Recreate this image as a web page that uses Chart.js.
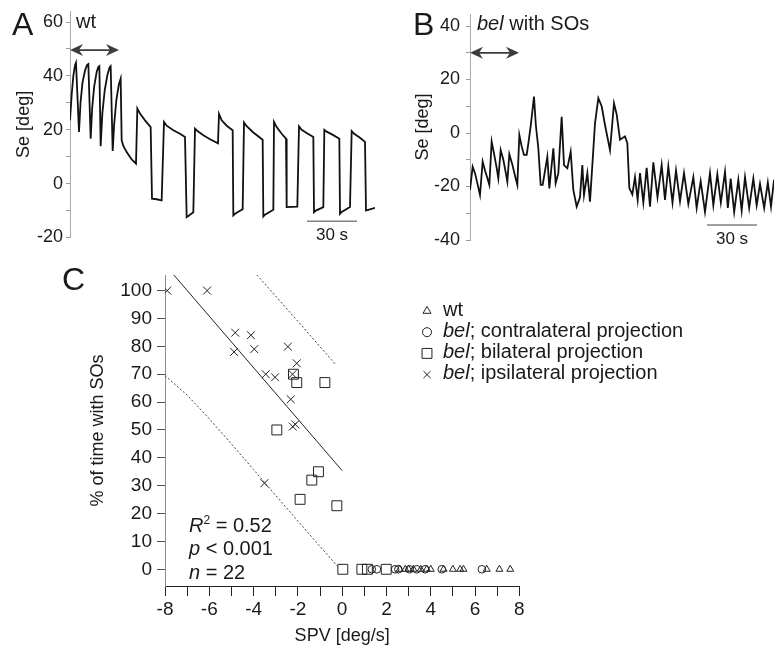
<!DOCTYPE html>
<html>
<head>
<meta charset="utf-8">
<script src="https://cdn.jsdelivr.net/npm/chart.js@4.4.1/dist/chart.umd.min.js"></script>
<style>
  body { margin: 0; background: #fff; }
  #wrap { position: relative; width: 774px; height: 650px; overflow: hidden; }
  canvas { position: absolute; }
</style>
</head>
<body>
<div id="wrap">
  <canvas id="chartA" width="390" height="250" style="left:0;top:0"></canvas>
  <canvas id="chartB" width="384" height="250" style="left:390px;top:0"></canvas>
  <canvas id="chartC" width="774" height="400" style="left:0;top:250px"></canvas>
</div>
<script>
// panel A: wt, eye position over time (s, deg)
const tA = [0, 1, 2, 3, 3.6, 5.4, 6.3, 7.5, 9, 10.2, 11, 12.4, 13.3, 14.5, 16, 17, 17.6, 18.4, 19.4, 20.8, 22.5, 23.8, 24.4, 25.6, 26.5, 27.8, 29.3, 30.4, 31, 32, 34, 37, 39.6, 40.4, 42, 45, 48.4, 49.2, 52, 55, 56.4, 58, 62, 66, 69, 70, 71, 74, 75, 76.5, 80, 84, 88.8, 89.4, 91, 94, 97.6, 98, 99, 103.6, 104.4, 106, 110, 115.6, 116, 117, 122, 122.4, 124, 127, 129.6, 130, 136.4, 137.4, 139, 142, 146, 146.4, 147.5, 152, 152.6, 154, 158, 161.6, 162, 163, 168, 169, 170.5, 174, 177, 177.6, 178.5, 183];
const seA = [23.5, 33, 40, 44, 44.9, 19.2, 30, 37.5, 42, 44, 44.4, 16.7, 28, 36, 41.5, 43.3, 43.6, 13.9, 26, 34.5, 40.5, 43.2, 43.6, 12.1, 22, 31, 36.8, 39, 16.1, 14, 11.7, 9, 7.4, 27.9, 26, 23.5, 21, -5.6, -5.8, -6.2, 22.9, 21.5, 19.8, 18.5, 17.3, -12.4, -12, -10.6, 20.4, 19.5, 18, 16.5, 15, 25.9, 23.5, 21.5, 19.8, -11.8, -11.2, -9.5, 22.7, 21.3, 19, 16.3, -12.2, -11.5, -9.7, 22.9, 21, 18.5, 16.7, -8.7, -8.5, 21.3, 20, 18.8, 17.3, -10.6, -10, -8.7, 20, 19.3, 18, 16.7, -11.2, -10.5, -8.7, 19.5, 18.5, 17, 15.5, -10, -9.8, -9];

// panel B: bel with SOs
const tB = [0, 1.6, 3, 4.5, 6, 7.6, 9, 10.5, 11.6, 13, 14.5, 16, 17, 18.4, 20, 21.5, 22.4, 23.6, 25.5, 27, 28.4, 29.6, 31, 32.4, 34, 35, 36.5, 38.4, 39.5, 41, 42.4, 43.6, 46.4, 47.6, 50, 51.4, 53, 55, 56.4, 58.4, 60.4, 62, 64, 66, 67.4, 68.4, 70.4, 72, 75, 77, 79, 81, 84, 86.4, 88, 90, 93, 94.4, 95.6, 97.4, 99, 100.6, 102, 104, 106, 108, 110, 112.5, 115, 117, 119, 121.5, 123.6, 126, 128.4, 131, 134, 136, 138.4, 141, 144, 146, 148.4, 150.5, 153, 154.7, 156.4, 158.5, 161, 163, 165, 167.5, 170, 172, 174, 176.5, 178.7, 180.6, 182.4];
const seB = [-21.3, -12.6, -15, -19, -23.2, -10.7, -14, -17, -19.4, -3.2, -8, -13, -17, -6.4, -10, -15, -18.2, -7.9, -12, -16, -19.4, -0.7, -5, -8.2, -8.2, -4, 3, 13.6, 3, -5.7, -19.4, -19.4, -8.9, -20.7, -5.7, -18.8, -15, 6.1, -12, -13.2, -7, -21.3, -27.5, -24, -12, -23.2, -15, -25.7, 3.6, 13, 10, 3, -6.4, 11.1, 7, -2.5, -1.25, -3.75, -20.6, -23, -16.5, -25, -15, -26, -13, -27.5, -11, -24, -12, -25, -12.5, -26, -14, -25.5, -15, -26.5, -16.5, -28, -18, -29.5, -15, -27, -15.5, -26, -14.5, -28, -17, -29.5, -17.5, -29, -16.5, -28, -17, -27, -19, -28, -18.5, -27.5, -17.5];

// stimulus window (s) and 30 s scale bars
const stimA = [0, 29.4];
const stimB = [0, 29.4];
const barA = [142.2, 172.2];
const barB = [142.2, 172.2];

// panel C: SPV (deg/s) vs % of time with SOs
const wtX = [2.6, 2.85, 3.0, 3.22, 3.55, 3.82, 4.0, 4.58, 5.0, 5.33, 5.48, 6.53, 7.1, 7.59];
const wtY = [0, 0, 0, 0, 0, 0, 0, 0, 0, 0, 0, 0, 0, 0];
const contraX = [1.34, 1.57, 2.39, 2.54, 3.04, 3.37, 3.75, 4.5, 6.31];
const contraY = [0, 0, 0, 0, 0, 0, 0, 0, 0];
const bilatX = [-2.2, -2.05, -0.78, -2.95, -1.07, -1.37, -1.9, -0.24, 0.03, 0.89, 1.14, 1.99];
const bilatY = [70, 67, 67, 50, 35, 32, 25.1, 22.8, 0, 0, 0, 0];
const ipsiX = [-7.9, -6.1, -4.83, -4.12, -4.88, -3.97, -2.45, -2.05, -3.45, -3.03, -2.24, -2.32, -2.23, -2.12, -3.51];
const ipsiY = [100, 100, 84.9, 84, 78, 79, 79.9, 73.9, 70, 68.9, 70, 61, 51.2, 52, 30.9];
const fitX = [-7.6, 0];
const fitY = [105.6, 35.4];
const upperX = [-3.85, -2, -0.3];
const upperY = [105.6, 89, 73.5];
const lowerX = [-8, -7, -6, -5, -4, -3, -2, -1, -0.2];
const lowerY = [69.5, 62.5, 54, 45, 35.8, 26.5, 17.3, 8.2, 1];

const family = "'Liberation Sans', Arial, sans-serif";
const ink = "#1a1a1a";
Chart.defaults.font.family = family;
Chart.defaults.color = ink;
Chart.defaults.plugins.legend.display = false;
Chart.defaults.plugins.tooltip.enabled = false;

const pts = (xs, ys) => xs.map((x, i) => ({ x: x, y: ys[i] }));

function drawRuns(ctx, runs, x, y) {
    for (const [text, font] of runs) {
        ctx.font = font;
        ctx.fillText(text, x, y);
        x += ctx.measureText(text).width;
    }
    return x;
}

function drawArrow(ctx, x1, x2, y) {
    ctx.strokeStyle = "#3c3c3c";
    ctx.fillStyle = "#3c3c3c";
    ctx.lineWidth = 1.8;
    ctx.beginPath();
    ctx.moveTo(x1 + 6, y);
    ctx.lineTo(x2 - 6, y);
    ctx.stroke();
    for (const [tip, dir] of [[x1, 1], [x2, -1]]) {
        ctx.beginPath();
        ctx.moveTo(tip, y);
        ctx.lineTo(tip + dir * 13, y - 6);
        ctx.lineTo(tip + dir * 9, y);
        ctx.lineTo(tip + dir * 13, y + 6);
        ctx.closePath();
        ctx.fill();
    }
}

function drawScaleBar(ctx, x1, x2, y) {
    ctx.strokeStyle = "#808080";
    ctx.lineWidth = 1.5;
    ctx.beginPath();
    ctx.moveTo(x1, y);
    ctx.lineTo(x2, y);
    ctx.stroke();
    ctx.fillStyle = ink;
    ctx.font = `17px ${family}`;
    ctx.textAlign = "center";
    ctx.fillText("30 s", (x1 + x2) / 2, y + 19);
    ctx.textAlign = "left";
}

function symbol(ctx, style, x, y, r) {
    ctx.beginPath();
    if (style === "triangle") {
        ctx.moveTo(x, y - r);
        ctx.lineTo(x + r * 0.866, y + r / 2);
        ctx.lineTo(x - r * 0.866, y + r / 2);
        ctx.closePath();
    } else if (style === "circle") {
        ctx.arc(x, y, r, 0, Math.PI * 2);
    } else if (style === "rect") {
        ctx.rect(x - r * 0.707, y - r * 0.707, r * 1.414, r * 1.414);
    } else {
        const d = r * 0.707;
        ctx.moveTo(x - d, y - d);
        ctx.lineTo(x + d, y + d);
        ctx.moveTo(x + d, y - d);
        ctx.lineTo(x - d, y + d);
    }
    ctx.stroke();
}

function traceConfig(ts, vs, o) {
    return {
        type: "line",
        data: {
            datasets: [{ data: pts(ts, vs), borderColor: "#111", borderWidth: 1.8, pointRadius: 0, tension: 0 }],
        },
        options: {
            responsive: false,
            animation: false,
            devicePixelRatio: 1,
            layout: { padding: o.padding },
            scales: {
                x: { type: "linear", display: false, min: 0, max: o.xMax },
                y: {
                    min: o.yMin,
                    max: o.yMax,
                    afterFit: (s) => {
                        s.width = o.axisLeft;
                        s.paddingTop = 0;
                        s.paddingBottom = 0;
                    },
                    ticks: {
                        stepSize: 10,
                        includeBounds: false,
                        autoSkip: false,
                        padding: o.tickPad,
                        color: ink,
                        font: { size: 18 },
                        callback: (v) => (v % 20 === 0 ? v : ""),
                    },
                    grid: { drawOnChartArea: false, tickLength: 4, color: "#999" },
                    border: { color: "#aaa" },
                    title: { display: true, text: "Se [deg]", font: { size: 18 }, color: ink, padding: { top: o.titlePad } },
                },
            },
        },
        plugins: [o.decor],
    };
}

const panelA = {
    id: "panelA",
    afterDraw(chart) {
        const { ctx, scales: { x, y } } = chart;
        ctx.save();
        ctx.fillStyle = ink;
        ctx.textAlign = "left";
        ctx.font = `32px ${family}`;
        ctx.fillText("A", 12, 35);
        ctx.font = `20px ${family}`;
        ctx.fillText("wt", 76, 28);
        drawArrow(ctx, x.getPixelForValue(stimA[0]), x.getPixelForValue(stimA[1]), y.getPixelForValue(49.6));
        drawScaleBar(ctx, x.getPixelForValue(barA[0]), x.getPixelForValue(barA[1]), y.getPixelForValue(-14));
        ctx.restore();
    },
};

const panelB = {
    id: "panelB",
    afterDraw(chart) {
        const { ctx, scales: { x, y } } = chart;
        ctx.save();
        ctx.fillStyle = ink;
        ctx.textAlign = "left";
        ctx.font = `32px ${family}`;
        ctx.fillText("B", 23, 35);
        drawRuns(ctx, [["bel", `italic 20px ${family}`], [" with SOs", `20px ${family}`]], 87, 30);
        drawArrow(ctx, x.getPixelForValue(stimB[0]), x.getPixelForValue(stimB[1]), y.getPixelForValue(30));
        drawScaleBar(ctx, x.getPixelForValue(barB[0]), x.getPixelForValue(barB[1]), y.getPixelForValue(-34.4));
        ctx.restore();
    },
};

const legendRows = [
    ["triangle", 4.6, [["wt", ""]]],
    ["circle", 4.5, [["bel", "italic "], ["; contralateral projection", ""]]],
    ["rect", 7, [["bel", "italic "], ["; bilateral projection", ""]]],
    ["cross", 5, [["bel", "italic "], ["; ipsilateral projection", ""]]],
];

const panelC = {
    id: "panelC",
    afterDraw(chart) {
        const ctx = chart.ctx;
        ctx.save();
        ctx.fillStyle = ink;
        ctx.textAlign = "left";
        ctx.font = `32px ${family}`;
        ctx.fillText("C", 62, 40);

        let cx = drawRuns(ctx, [["R", `italic 20px ${family}`]], 189, 281.7);
        cx = drawRuns(ctx, [["2", `12px ${family}`]], cx, 273.5);
        drawRuns(ctx, [[" = 0.52", `20px ${family}`]], cx, 281.7);
        drawRuns(ctx, [["p", `italic 20px ${family}`], [" < 0.001", `20px ${family}`]], 189, 305);
        drawRuns(ctx, [["n", `italic 20px ${family}`], [" = 22", `20px ${family}`]], 189, 329.3);

        legendRows.forEach(([style, r, runs], i) => {
            const yy = 61 + i * 21.2;
            ctx.strokeStyle = "#222";
            ctx.lineWidth = 1;
            symbol(ctx, style, 427, yy, r);
            ctx.fillStyle = ink;
            drawRuns(ctx, runs.map(([t, f]) => [t, `${f}20px ${family}`]), 443, yy + 4.5);
        });
        ctx.restore();
    },
};

const chartA = new Chart(document.getElementById("chartA"), traceConfig(tA, seA, {
    padding: { top: 11.25, right: 15, bottom: 12.5, left: 0 },
    xMax: 183, yMin: -20, yMax: 64, axisLeft: 70, tickPad: 3, titlePad: 13, decor: panelA,
}));

const chartB = new Chart(document.getElementById("chartB"), traceConfig(tB, seB, {
    padding: { top: 14, right: 0, bottom: 10, left: 0 },
    xMax: 182.4, yMin: -40, yMax: 44.5, axisLeft: 80, tickPad: 6, titlePad: 22.7, decor: panelB,
}));

const markerBase = { pointBackgroundColor: "rgba(0,0,0,0)", pointBorderColor: "#222", pointBorderWidth: 1, showLine: false };
const bandBase = { showLine: true, pointRadius: 0, borderColor: "#444", borderWidth: 1, borderDash: [2, 2] };

const chartC = new Chart(document.getElementById("chartC"), {
    type: "scatter",
    data: {
        datasets: [
            { ...bandBase, data: pts(upperX, upperY) },
            { ...bandBase, data: pts(lowerX, lowerY) },
            { showLine: true, pointRadius: 0, borderColor: "#222", borderWidth: 1, data: pts(fitX, fitY) },
            { ...markerBase, label: "wt", pointStyle: "triangle", pointRadius: 4, data: pts(wtX, wtY) },
            { ...markerBase, label: "contralateral", pointStyle: "circle", pointRadius: 3.8, data: pts(contraX, contraY) },
            { ...markerBase, label: "bilateral", pointStyle: "rect", pointRadius: 7, data: pts(bilatX, bilatY) },
            { ...markerBase, label: "ipsilateral", pointStyle: "crossRot", pointRadius: 5.6, data: pts(ipsiX, ipsiY) },
        ],
    },
    options: {
        responsive: false,
        animation: false,
        devicePixelRatio: 1,
        layout: { padding: { top: 25, right: 254.7, bottom: 0, left: 0 } },
        scales: {
            x: {
                type: "linear",
                min: -8,
                max: 8,
                afterFit: (s) => {
                    s.height = 64;
                    s.paddingLeft = 0;
                    s.paddingRight = 0;
                },
                ticks: {
                    stepSize: 1,
                    autoSkip: false,
                    maxRotation: 0,
                    padding: 2,
                    color: ink,
                    font: { size: 19 },
                    callback: (v) => (v % 2 === 0 ? v : ""),
                },
                grid: { drawOnChartArea: false, tickLength: 10, color: "#222" },
                border: { color: "#222" },
                title: { display: true, text: "SPV [deg/s]", font: { size: 18 }, color: ink, padding: { top: 0, bottom: 3.2 } },
            },
            y: {
                min: -6,
                max: 105.6,
                afterFit: (s) => {
                    s.width = 165;
                    s.paddingTop = 0;
                    s.paddingBottom = 0;
                },
                ticks: {
                    stepSize: 10,
                    includeBounds: false,
                    autoSkip: false,
                    padding: 5,
                    color: ink,
                    font: { size: 19 },
                },
                grid: { drawOnChartArea: false, tickLength: 8, color: "#555" },
                border: { color: "#888" },
                title: { display: true, text: "% of time with SOs", font: { size: 18 }, color: ink, padding: { top: 87.7 } },
            },
        },
    },
    plugins: [panelC],
});
</script>
</body>
</html>
